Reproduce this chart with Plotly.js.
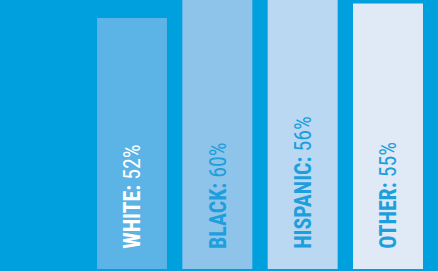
<!DOCTYPE html>
<html><head><meta charset="utf-8">
<script src="https://cdn.plot.ly/plotly-3.0.1.min.js"></script>
<style>html,body{margin:0;padding:0;background:#00A0DF;}#c{width:438px;height:271px;}</style>
</head><body><div id="c"></div>
<script>
const groups = ["WHITE", "BLACK", "HISPANIC", "OTHER"];
const values = [52, 60, 56, 55];
const barColors = ["#5BB3E6", "#8EC4EA", "#BAD8F1", "#DFEAF6"];
const labelColors = ["#FFFFFF", "#1E9FDD", "#1E9FDD", "#1E9FDD"];
const condense = 0.91;

const trace = {
  type: "bar",
  x: groups,
  y: values,
  width: 0.82,
  marker: {color: barColors, line: {width: 0}},
  hoverinfo: "skip"
};

const annotations = groups.map((g, i) => ({
  x: g, y: 3.7, xref: "x", yref: "y",
  text: "<b>" + g + ":</b> " + values[i] + "%",
  textangle: -90,
  showarrow: false,
  xanchor: "center", yanchor: "bottom",
  font: {family: "Roboto Condensed, DejaVu Sans Condensed, Roboto, sans-serif", size: 24, color: labelColors[i]}
}));

const layout = {
  width: 438, height: 271,
  margin: {l: 0, r: 0, t: 0, b: 0},
  paper_bgcolor: "#00A0DF",
  plot_bgcolor: "#00A0DF",
  showlegend: false,
  xaxis: {range: [-1.547, 3.586], visible: false, fixedrange: true},
  yaxis: {range: [-0.41, 55.73], visible: false, fixedrange: true},
  annotations: annotations
};

Plotly.newPlot("c", [trace], layout, {staticPlot: true, displayModeBar: false}).then(gd => {
  gd.querySelectorAll("text.annotation-text").forEach(t => {
    const L = t.getComputedTextLength();
    const x0 = parseFloat(t.getAttribute("x"));
    t.setAttribute("text-anchor", "start");
    t.style.textAnchor = "start";
    t.setAttribute("x", x0 - L / 2);
    t.setAttribute("textLength", L * condense);
    t.setAttribute("lengthAdjust", "spacingAndGlyphs");
  });
});
</script>
</body></html>
